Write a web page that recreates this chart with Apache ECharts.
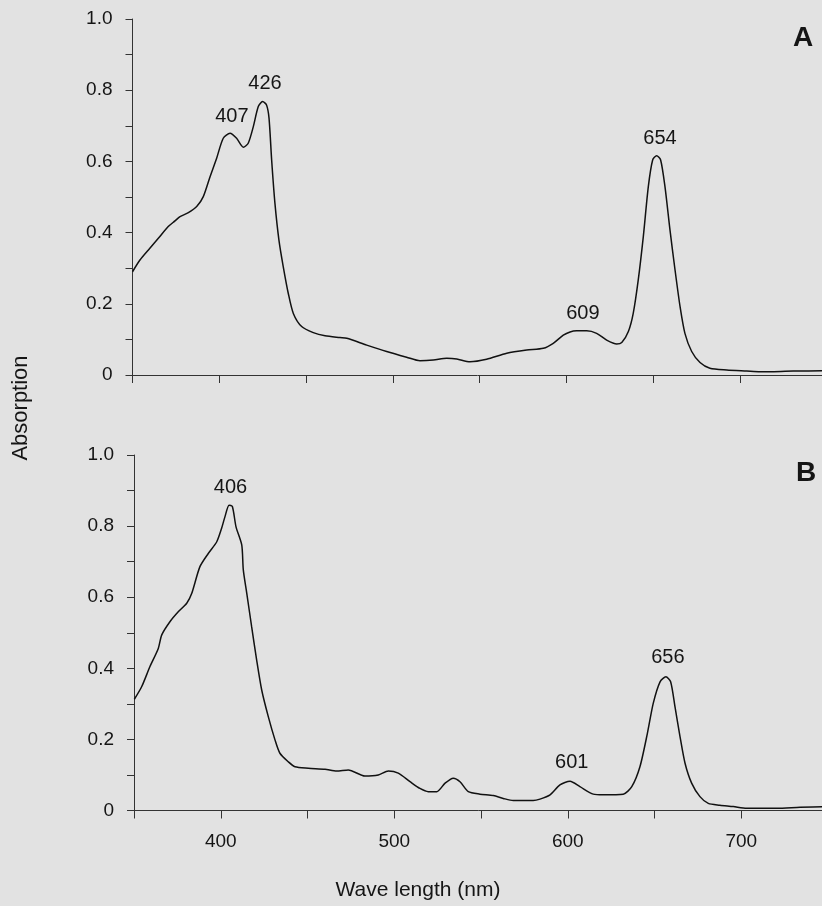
<!DOCTYPE html>
<html>
<head>
<meta charset="utf-8">
<script src="https://cdn.jsdelivr.net/npm/echarts@6/dist/echarts.min.js"></script>
<style>
html,body{margin:0;padding:0;background:#e2e2e2;}
#chart{width:822px;height:906px;}
</style>
</head>
<body>
<div id="chart"></div>
<script>
// Spectrum A: [wavelength nm, absorption]
var spectrumA = [[350,0.29],[354.3,0.323],[360,0.356],[364.9,0.384],[370.6,0.417],[374.5,0.433],[377.4,0.445],[382.2,0.456],[387,0.473],[390.8,0.501],[394.7,0.557],[398.5,0.609],[402.3,0.665],[406.2,0.679],[410,0.665],[413.9,0.64],[416.7,0.651],[419.6,0.697],[422.5,0.754],[425,0.768],[427.3,0.758],[428.7,0.721],[430.2,0.604],[432.1,0.482],[434.4,0.379],[436.9,0.304],[439.8,0.229],[442.7,0.173],[447.5,0.136],[454.2,0.119],[461,0.11],[469.6,0.105],[473.5,0.103],[485,0.084],[496.5,0.066],[508,0.05],[515.7,0.04],[523.4,0.042],[531.1,0.047],[536.9,0.045],[544.5,0.037],[554.1,0.044],[565.7,0.061],[577.2,0.07],[586.8,0.075],[592.5,0.089],[598.3,0.112],[602.2,0.121],[606,0.124],[611.8,0.124],[617.5,0.117],[623.3,0.098],[629.1,0.087],[632,0.091],[635.8,0.122],[638.6,0.173],[641.5,0.267],[644.4,0.388],[647.3,0.529],[649.8,0.604],[652.1,0.616],[654.4,0.604],[656.9,0.529],[659.8,0.407],[662.7,0.295],[665.6,0.192],[668.4,0.117],[672.3,0.066],[677.1,0.035],[682.8,0.019],[692.5,0.014],[704,0.011],[711.7,0.009],[730.9,0.011],[750,0.012]];

// Spectrum B: [wavelength nm, absorption]
var spectrumB = [[350.2,0.313],[354.4,0.348],[359.2,0.405],[364,0.456],[366,0.494],[370.7,0.531],[375.5,0.559],[380.4,0.583],[383.3,0.611],[388,0.686],[392.8,0.723],[397.7,0.756],[400.5,0.794],[402.4,0.826],[404.8,0.859],[406.7,0.855],[408.8,0.798],[412.1,0.747],[413,0.677],[415,0.611],[417.8,0.517],[420.7,0.423],[423.6,0.339],[427.4,0.264],[431.3,0.198],[434.1,0.161],[438.9,0.137],[442.8,0.123],[450.5,0.119],[460.1,0.116],[466.8,0.111],[473.5,0.114],[483.1,0.097],[490.8,0.1],[496.6,0.111],[502.3,0.105],[509.1,0.081],[514.8,0.062],[519.6,0.053],[524.5,0.053],[529.3,0.077],[534,0.091],[537.9,0.081],[542.7,0.053],[549.4,0.046],[557.1,0.042],[562.8,0.034],[568.6,0.028],[580.1,0.028],[584,0.032],[589.8,0.044],[595.5,0.072],[601.3,0.082],[607,0.067],[614.7,0.046],[620.5,0.044],[632,0.046],[636.9,0.067],[641.6,0.123],[645.9,0.217],[649.3,0.302],[653.2,0.362],[656.6,0.376],[659.3,0.362],[661.8,0.292],[664.7,0.208],[667.6,0.133],[671.4,0.077],[676.2,0.039],[681,0.02],[687.7,0.015],[695.4,0.011],[703.1,0.006],[720.4,0.006],[733.9,0.009],[750,0.011]];

// Peak annotations: [label x (nm), label y (absorption), text]
var peaksA = [[407.3,0.725,'407'],[426.4,0.82,'426'],[609.6,0.174,'609'],[654,0.663,'654']];
var peaksB = [[405.6,0.91,'406'],[602.3,0.134,'601'],[657.7,0.43,'656']];

var xTickLabels = [400, 500, 600, 700];
var yTickLabels = ['0', '0.2', '0.4', '0.6', '0.8', '1.0'];
var panelLetters = ['A', 'B'];
var yTitle = 'Absorption';
var xTitle = 'Wave length (nm)';

var FONT = '"Liberation Sans", Arial, sans-serif';
var INK = '#151515';

function xAxisCfg(grid, showLabels) {
  return {
    type: 'value', gridIndex: grid, min: 350, max: 750, interval: 50,
    axisLine: {show: true, lineStyle: {color: '#333', width: 1}},
    axisTick: {show: true, length: 8, lineStyle: {color: '#333'}},
    splitLine: {show: false},
    axisLabel: {
      show: showLabels, margin: 22, color: INK, fontSize: 19, fontFamily: FONT,
      formatter: function (v) { return xTickLabels.indexOf(Math.round(v)) >= 0 ? String(Math.round(v)) : ''; }
    }
  };
}
function yAxisCfg(grid) {
  return {
    type: 'value', gridIndex: grid, min: 0, max: 1, interval: 0.1,
    axisLine: {show: true, lineStyle: {color: '#333', width: 1}},
    axisTick: {show: true, length: 7, lineStyle: {color: '#333'}},
    splitLine: {show: false},
    axisLabel: {
      margin: 20, color: INK, fontSize: 19, fontFamily: FONT,
      formatter: function (v) {
        var k = Math.round(v * 10);
        return (k % 2 === 0) ? yTickLabels[k / 2] : '';
      }
    }
  };
}
function peakSeries(idx, data) {
  return {
    type: 'scatter', xAxisIndex: idx, yAxisIndex: idx, data: data,
    symbolSize: 0, silent: true,
    itemStyle: {color: INK, opacity: 1},
    label: {show: true, position: [0, 0], align: 'center', verticalAlign: 'middle',
      color: INK, fontSize: 20, fontFamily: FONT,
      formatter: function (p) { return p.value[2]; }}
  };
}
function lineSeries(idx, data) {
  return {
    type: 'line', xAxisIndex: idx, yAxisIndex: idx, data: data,
    showSymbol: false, smooth: 0.25, silent: true,
    lineStyle: {color: '#111', width: 1.5}
  };
}

var chart = echarts.init(document.getElementById('chart'));
chart.setOption({
  backgroundColor: '#e2e2e2',
  animation: false,
  grid: [
    {left: 132.5, width: 694, top: 19, height: 356, outerBoundsMode: 'none', containLabel: false},
    {left: 134, width: 694, top: 455, height: 355.5, outerBoundsMode: 'none', containLabel: false}
  ],
  xAxis: [xAxisCfg(0, false), xAxisCfg(1, true)],
  yAxis: [yAxisCfg(0), yAxisCfg(1)],
  series: [
    lineSeries(0, spectrumA), lineSeries(1, spectrumB),
    peakSeries(0, peaksA), peakSeries(1, peaksB)
  ],
  graphic: [
    {type: 'text', x: 21, y: 408, rotation: Math.PI / 2,
      style: {text: yTitle, font: '22px ' + FONT, fill: INK, textAlign: 'center', textVerticalAlign: 'middle'}},
    {type: 'text', x: 418, y: 890,
      style: {text: xTitle, font: '21px ' + FONT, fill: INK, textAlign: 'center', textVerticalAlign: 'middle'}},
    {type: 'text', x: 803, y: 38,
      style: {text: panelLetters[0], font: 'bold 28px ' + FONT, fill: INK, textAlign: 'center', textVerticalAlign: 'middle'}},
    {type: 'text', x: 806, y: 473,
      style: {text: panelLetters[1], font: 'bold 28px ' + FONT, fill: INK, textAlign: 'center', textVerticalAlign: 'middle'}}
  ]
});
</script>
</body>
</html>
